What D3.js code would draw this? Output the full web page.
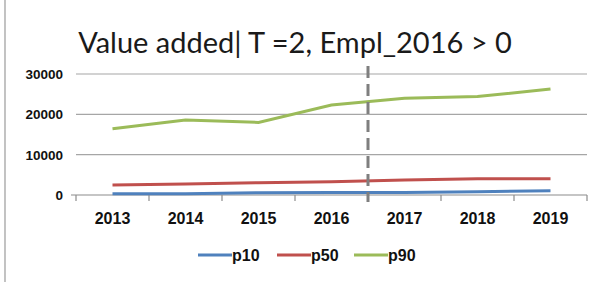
<!DOCTYPE html>
<html>
<head>
<meta charset="utf-8">
<script src="https://cdn.jsdelivr.net/npm/d3@7"></script>
<style>
  body { margin: 0; background: #fff; }
  svg { display: block; }
</style>
</head>
<body>
<svg width="601" height="282"></svg>
<script>
var years = ["2013", "2014", "2015", "2016", "2017", "2018", "2019"];
var p10 = [300, 320, 570, 650, 600, 820, 1070];
var p50 = [2480, 2750, 3050, 3300, 3700, 4050, 4050];
var p90 = [16400, 18600, 18000, 22300, 24000, 24400, 26300];
var yTicks = [0, 10000, 20000, 30000];
var seriesNames = ["p10", "p50", "p90"];
var seriesColors = ["#4f81bd", "#c0504d", "#9bbb59"];

var svg = d3.select("svg");

var x = d3.scaleBand().domain(years).range([76, 587]);
var y = d3.scaleLinear().domain([0, 30000]).range([195, 74]);

// left frame line
svg.append("line")
    .attr("x1", 5).attr("x2", 5).attr("y1", 0).attr("y2", 282)
    .attr("stroke", "#9a9a9a").attr("stroke-width", 1.2);

svg.append("text")
    .attr("x", 295).attr("y", 53)
    .attr("text-anchor", "middle")
    .attr("font-family", "Lato, 'Open Sans', sans-serif")
    .attr("font-size", 29)
    .attr("fill", "#1a1a1a")
    .text("Value added| T =2, Empl_2016 > 0");

// gridlines
svg.append("g")
  .selectAll("line")
  .data(yTicks.slice(1))
  .enter().append("line")
    .attr("x1", 76).attr("x2", 587)
    .attr("y1", function(d) { return y(d); })
    .attr("y2", function(d) { return y(d); })
    .attr("stroke", "#a6a6a6").attr("stroke-width", 1.2);

// y labels
svg.append("g")
  .selectAll("text")
  .data(yTicks)
  .enter().append("text")
    .attr("x", 63)
    .attr("y", function(d) { return y(d) + 5; })
    .attr("text-anchor", "end")
    .attr("font-family", "'Liberation Sans', Arial, sans-serif")
    .attr("font-weight", "bold")
    .attr("font-size", 13.5)
    .attr("fill", "#111")
    .text(function(d) { return d; });

// x axis
svg.append("line")
    .attr("x1", 71).attr("x2", 587).attr("y1", y(0)).attr("y2", y(0))
    .attr("stroke", "#8c8c8c").attr("stroke-width", 1.2);

var bounds = years.map(function(d) { return x(d); }).concat([x.range()[1]]);
svg.append("g")
  .selectAll("line")
  .data(bounds)
  .enter().append("line")
    .attr("x1", function(d) { return d; }).attr("x2", function(d) { return d; })
    .attr("y1", y(0)).attr("y2", y(0) + 6)
    .attr("stroke", "#8c8c8c").attr("stroke-width", 1.2);

svg.append("g")
  .selectAll("text")
  .data(years)
  .enter().append("text")
    .attr("x", function(d) { return x(d) + x.bandwidth() / 2; })
    .attr("y", 224)
    .attr("text-anchor", "middle")
    .attr("font-family", "'Liberation Sans', Arial, sans-serif")
    .attr("font-weight", "bold")
    .attr("font-size", 16)
    .attr("fill", "#111")
    .text(function(d) { return d; });

// series lines
var line = d3.line()
    .x(function(d, i) { return x(years[i]) + x.bandwidth() / 2; })
    .y(function(d) { return y(d); });

var series = [p10, p50, p90];
svg.append("g")
  .selectAll("path")
  .data(series)
  .enter().append("path")
    .attr("d", line)
    .attr("fill", "none")
    .attr("stroke", function(d, i) { return seriesColors[i]; })
    .attr("stroke-width", 3);

// dashed cut line between 2016 and 2017
var cx = x("2017");
svg.append("line")
    .attr("x1", cx).attr("x2", cx)
    .attr("y1", 66).attr("y2", 202)
    .attr("stroke", "#7f7f7f").attr("stroke-width", 3)
    .attr("stroke-dasharray", "12,6");

// legend
var legendX = [198, 277, 354];
var lg = svg.append("g");
seriesNames.forEach(function(name, i) {
  lg.append("line")
    .attr("x1", legendX[i]).attr("x2", legendX[i] + 34)
    .attr("y1", 255).attr("y2", 255)
    .attr("stroke", seriesColors[i]).attr("stroke-width", 3);
  lg.append("text")
    .attr("x", legendX[i] + 34).attr("y", 261)
    .attr("font-family", "'Liberation Sans', Arial, sans-serif")
    .attr("font-weight", "bold")
    .attr("font-size", 16)
    .attr("fill", "#111")
    .text(name);
});
</script>
</body>
</html>
